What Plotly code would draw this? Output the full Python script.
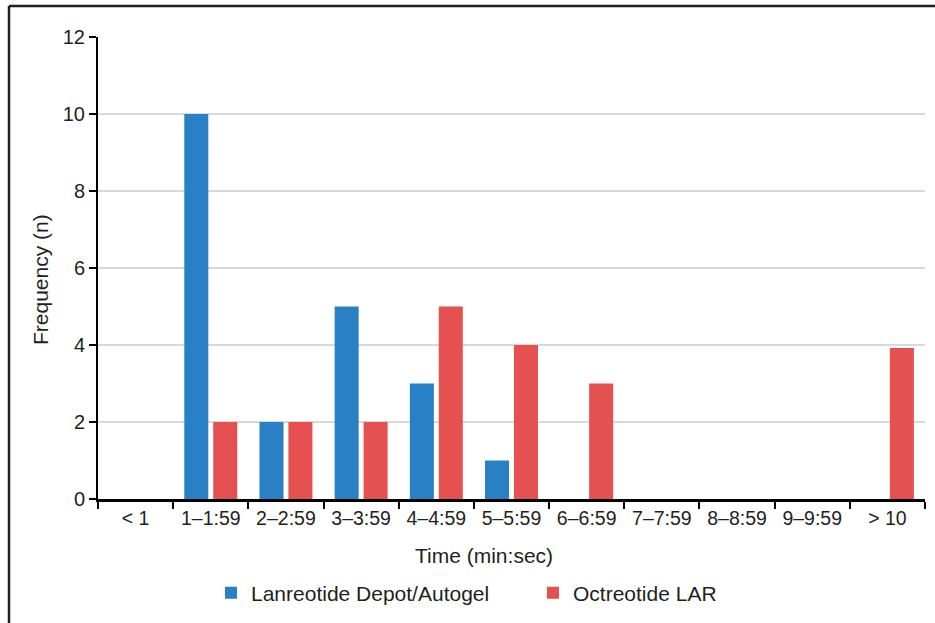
import plotly.graph_objects as go

categories = ["< 1", "1–1:59", "2–2:59", "3–3:59", "4–4:59", "5–5:59",
              "6–6:59", "7–7:59", "8–8:59", "9–9:59", "> 10"]
lanreotide = [0, 10, 2, 5, 3, 1, 0, 0, 0, 0, 0]
octreotide = [0, 2, 2, 2, 5, 4, 3, 0, 0, 0, 3.92]
y_ticks = [0, 2, 4, 6, 8, 10, 12]

FONT = "Liberation Sans, Arial, Helvetica, sans-serif"
TXT = "#231f20"

fig = go.Figure()
fig.add_trace(go.Bar(x=categories, y=lanreotide, name="Lanreotide Depot/Autogel",
                     marker=dict(color="#2a80c4", line=dict(width=0))))
fig.add_trace(go.Bar(x=categories, y=octreotide, name="Octreotide LAR",
                     marker=dict(color="#e55050", line=dict(width=0))))

L, R, T, B = 98, 10, 37, 124
W, H = 935, 623
pw, ph = W - L - R, H - T - B

def px_x(x):
    return (x - L) / pw

def px_y(y):
    return (H - B - y) / ph

fig.update_layout(
    width=W, height=H,
    margin=dict(l=L, r=R, t=T, b=B),
    paper_bgcolor="white", plot_bgcolor="white",
    barmode="group", bargap=0.23, bargroupgap=0.17,
    font=dict(family=FONT, size=19, color=TXT),
    showlegend=True,
    legend=dict(orientation="h", xref="container", x=211 / W, xanchor="left",
                yref="container", y=0.048, yanchor="middle",
                font=dict(size=21, color=TXT), itemwidth=30,
                entrywidth=277, traceorder="normal"),
    xaxis=dict(type="category", showline=True, linecolor="black", linewidth=2.5,
               ticks="outside", tickson="boundaries", ticklen=7, tickwidth=2,
               tickcolor="black", showgrid=False, tickfont=dict(size=19.5),
               fixedrange=True),
    yaxis=dict(range=[0, 12], tickvals=y_ticks, showline=True, linecolor="black",
               linewidth=2, ticks="outside", ticklen=7, tickwidth=2, tickcolor="black",
               showgrid=True, gridcolor="#d9d9d9", gridwidth=1.5, zeroline=False,
               tickfont=dict(size=20), fixedrange=True),
    annotations=[
        dict(text="Time (min:sec)", xref="paper", yref="paper",
             x=px_x(484), y=px_y(555), xanchor="center", yanchor="middle",
             showarrow=False, font=dict(size=21, color=TXT)),
        dict(text="Frequency (n)", xref="paper", yref="paper",
             x=px_x(40), y=px_y(280), xanchor="center", yanchor="middle",
             textangle=-90, showarrow=False, font=dict(size=21, color=TXT)),
    ],
    shapes=[
        dict(type="line", xref="paper", yref="paper", x0=px_x(9), x1=px_x(940),
             y0=px_y(6), y1=px_y(6), line=dict(color="#231f20", width=2.5)),
        dict(type="line", xref="paper", yref="paper", x0=px_x(9), x1=px_x(9),
             y0=px_y(6), y1=px_y(630), line=dict(color="#231f20", width=2.5)),
    ],
)

fig.write_html("out.html", config={"displayModeBar": False},
               post_script="document.body.style.margin='0px';document.body.style.overflow='hidden';")
